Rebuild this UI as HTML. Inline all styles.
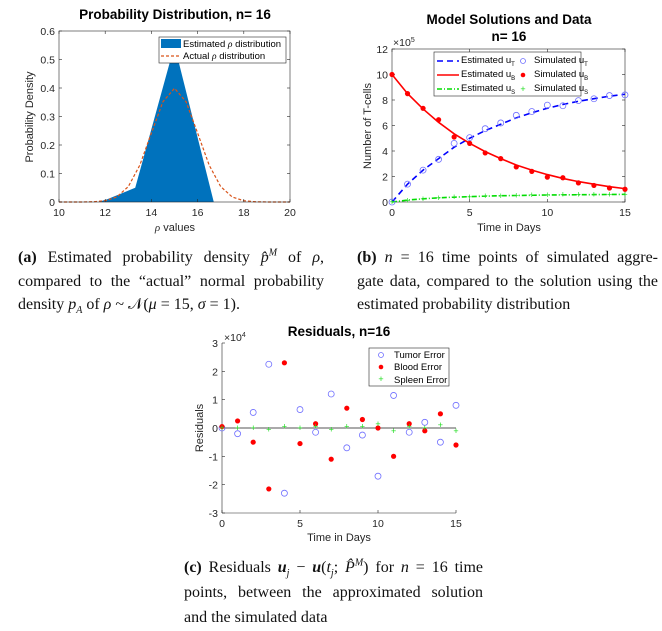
<!DOCTYPE html>
<html><head><meta charset="utf-8">
<style>
html,body{margin:0;padding:0;background:#fff;}
body{width:662px;height:631px;position:relative;overflow:hidden;font-family:"Liberation Sans",sans-serif;}
svg{position:absolute;left:0;top:0;}
.cap{position:absolute;font-family:"Liberation Serif",serif;font-size:16px;color:#111;line-height:23.5px;text-align:justify;}
.cap .l{display:block;height:23.5px;text-align:justify;text-align-last:justify;white-space:nowrap;}
.cap sub,.cap sup{line-height:0;font-size:10px;}
.tick{font-size:10.5px;fill:#262626;}
.ttl{font-size:13.5px;font-weight:bold;fill:#000;}
.lab{font-size:11px;fill:#262626;}
.leg{font-size:9.5px;fill:#000;}
</style></head>
<body>
<svg id="svg" width="662" height="631"></svg>

<div class="cap" style="left:18px;top:246px;width:306px">
<span class="l"><b>(a)</b> Estimated probability density <i>p̂</i><sup><i>M</i></sup> of <i>ρ</i>,</span>
<span class="l">compared to the “actual” normal probability</span>
<span class="l" style="text-align-last:left">density <i>p<sub>A</sub></i> of <i>ρ</i> ~ 𝒩(<i>μ</i> = 15, <i>σ</i> = 1).</span>
</div>
<div class="cap" style="left:357px;top:246px;width:301px">
<span class="l"><b>(b)</b> <i>n</i> = 16 time points of simulated aggre-</span>
<span class="l">gate data, compared to the solution using the</span>
<span class="l" style="text-align-last:left">estimated probability distribution</span>
</div>
<div class="cap" style="left:184px;top:555px;width:299px;line-height:25px">
<span class="l" style="height:25px"><b>(c)</b> Residuals <b><i>u</i></b><sub><i>j</i></sub> − <b><i>u</i></b>(<i>t<sub>j</sub></i>; <i>P̂</i><sup><i>M</i></sup>) for <i>n</i> = 16 time</span>
<span class="l" style="height:25px">points, between the approximated solution</span>
<span class="l" style="height:25px;text-align-last:left">and the simulated data</span>
</div>

<script>
// ---- Chart A data ----
const estX = [10, 11.7, 12.1, 13.3, 15, 16.7, 20];
const estY = [0, 0, 0.01, 0.05, 0.55, 0, 0];
const actX = [10,10.5,11,11.5,12,12.5,13,13.5,14,14.5,15,15.5,16,16.5,17,17.5,18,18.5,19,19.5,20];
const actY = [0,0,0.0001,0.0009,0.0044,0.0175,0.054,0.1295,0.242,0.352,0.399,0.352,0.242,0.1295,0.054,0.0175,0.0044,0.0009,0.0001,0,0];
const aXTicks = [10,12,14,16,18,20];
const aYTicks = [0,0.1,0.2,0.3,0.4,0.5,0.6];
const aYLabels = ["0","0.1","0.2","0.3","0.4","0.5","0.6"];
// ---- Chart B data (x1e5) ----
const days = [0,1,2,3,4,5,6,7,8,9,10,11,12,13,14,15];
const estT = [0,1.4,2.5,3.4,4.3,5.0,5.6,6.1,6.6,7.0,7.35,7.65,7.9,8.1,8.3,8.45];
const simT = [0,1.4,2.5,3.35,4.6,5.05,5.75,6.2,6.8,7.1,7.6,7.55,7.95,8.1,8.35,8.4];
const estB = [10,8.5,7.3,6.25,5.35,4.6,3.95,3.4,2.9,2.5,2.15,1.85,1.6,1.4,1.2,1.05];
const simB = [10,8.5,7.35,6.45,5.1,4.6,3.85,3.4,2.75,2.4,1.95,1.9,1.5,1.3,1.1,1.0];
const estS = [0,0.15,0.25,0.33,0.38,0.42,0.46,0.49,0.51,0.53,0.55,0.56,0.57,0.58,0.59,0.6];
const simS = [0,0.12,0.24,0.32,0.38,0.41,0.46,0.48,0.52,0.53,0.55,0.57,0.57,0.59,0.6,0.6];
const bXTicks = [0,5,10,15];
const bYTicks = [0,2,4,6,8,10,12];
// ---- Chart C data (x1e4) ----
const resTumor = [0,-0.2,0.55,2.25,-2.3,0.65,-0.15,1.2,-0.7,-0.25,-1.7,1.15,-0.15,0.2,-0.5,0.8];
const resBlood = [0.05,0.25,-0.5,-2.15,2.3,-0.55,0.15,-1.1,0.7,0.3,0.0,-1.0,0.15,-0.1,0.5,-0.6];
const resSpleen = [0,0,0,-0.05,0.05,0,0.05,-0.05,0.05,0.05,0.15,-0.1,0.05,0,0.1,-0.1];
const cYTicks = [-3,-2,-1,0,1,2,3];

const NS="http://www.w3.org/2000/svg";
const svg=document.getElementById('svg');
function el(tag,attrs,parent){const e=document.createElementNS(NS,tag);for(const k in attrs)e.setAttribute(k,attrs[k]);(parent||svg).appendChild(e);return e;}
function txt(s,attrs,parent){const e=el('text',attrs,parent);e.textContent=s;return e;}
function lin(d0,d1,r0,r1){return v=>r0+(v-d0)/(d1-d0)*(r1-r0);}

// ===== Chart A =====
(function(){
const g=el('g',{});


const X=lin(10,20,59,290), Y=lin(0,0.6,202,31);
let pts=estX.map((x,i)=>X(x)+','+Y(estY[i])).join(' ');
const poly=el('polygon',{points:pts,fill:'#0072bd',stroke:'none'},g);


const act=el('polyline',{points:actX.map((x,i)=>X(x)+','+Y(actY[i])).join(' '),fill:'none',stroke:'#d95319','stroke-width':1.2,'stroke-dasharray':'3,2'},g);


el('rect',{x:59,y:31,width:231,height:171,fill:'none',stroke:'#262626','stroke-width':0.6},g);
aXTicks.forEach(t=>{el('line',{x1:X(t),x2:X(t),y1:202,y2:199,stroke:'#262626','stroke-width':0.6},g);el('line',{x1:X(t),x2:X(t),y1:31,y2:34,stroke:'#262626','stroke-width':0.6},g);
 const l=txt(String(t),{x:X(t),y:216,'text-anchor':'middle',class:'tick'},g);});
aYTicks.forEach((t,i)=>{el('line',{x1:59,x2:62,y1:Y(t),y2:Y(t),stroke:'#262626','stroke-width':0.6},g);el('line',{x1:290,x2:287,y1:Y(t),y2:Y(t),stroke:'#262626','stroke-width':0.6},g);
 const l=txt(aYLabels[i],{x:55,y:Y(t)+4,'text-anchor':'end',class:'tick'},g);});
const t1=txt('Probability Distribution, n= 16',{x:175,y:19,'text-anchor':'middle',class:'ttl'},g);
const xl=txt('',{x:175,y:231,'text-anchor':'middle',class:'lab'},g);xl.innerHTML='<tspan font-family="Liberation Serif" font-style="italic">ρ</tspan> values';
const yl=txt('Probability Density',{x:0,y:0,'text-anchor':'middle',class:'lab',transform:'translate(33,117) rotate(-90)'},g);
const lg=el('g',{},g);
el('rect',{x:159,y:37,width:127,height:26,fill:'#fff',stroke:'#262626','stroke-width':0.6},lg);
el('rect',{x:161,y:39,width:20,height:9,fill:'#0072bd'},lg);
el('line',{x1:161,x2:181,y1:56,y2:56,stroke:'#d95319','stroke-width':1.2,'stroke-dasharray':'3,2'},lg);
const e1=txt('',{x:183,y:47,class:'leg'},lg);e1.innerHTML='Estimated <tspan font-family="Liberation Serif" font-style="italic">ρ</tspan> distribution';
const e2=txt('',{x:183,y:59,class:'leg'},lg);e2.innerHTML='Actual <tspan font-family="Liberation Serif" font-style="italic">ρ</tspan> distribution';
})();

// ===== Chart B =====
(function(){
const g=el('g',{});


const X=lin(0,15,392,625), Y=lin(0,12,202,49);
el('rect',{x:392,y:49,width:233,height:153,fill:'none',stroke:'#262626','stroke-width':0.6},g);
bXTicks.forEach(t=>{el('line',{x1:X(t),x2:X(t),y1:202,y2:199,stroke:'#262626','stroke-width':0.6},g);el('line',{x1:X(t),x2:X(t),y1:49,y2:52,stroke:'#262626','stroke-width':0.6},g);
 const l=txt(String(t),{x:X(t),y:216,'text-anchor':'middle',class:'tick'},g);});
bYTicks.forEach(t=>{el('line',{x1:392,x2:395,y1:Y(t),y2:Y(t),stroke:'#262626','stroke-width':0.6},g);el('line',{x1:625,x2:622,y1:Y(t),y2:Y(t),stroke:'#262626','stroke-width':0.6},g);
 const l=txt(String(t),{x:388,y:Y(t)+4,'text-anchor':'end',class:'tick'},g);});
const ex=txt('',{x:393,y:46,class:'tick','font-size':'10'},g);ex.innerHTML='×10<tspan dy="-4" font-size="7">5</tspan>';
function line(arr,col,dash,name,w){const p=el('polyline',{points:days.map((d,i)=>X(d)+','+Y(arr[i])).join(' '),fill:'none',stroke:col,'stroke-width':w||1.6,'stroke-dasharray':dash},g);}
line(estT,'#0000ff','6,4','estimated-ut-line');
line(estB,'#ff0000','none','estimated-ub-line');
line(estS,'#00dd00','5,2,1,2','estimated-us-line');
days.forEach((d,i)=>{
 const c=el('circle',{cx:X(d),cy:Y(simT[i]),r:3,fill:'none',stroke:'#7070ff','stroke-width':0.8},g);
 const b=el('circle',{cx:X(d),cy:Y(simB[i]),r:2.6,fill:'#ff0000'},g);
 const s=el('text',{x:X(d),y:Y(simS[i])+3,'text-anchor':'middle','font-size':'9',fill:'#22dd22'},g);s.textContent='+';
});
const t1=txt('Model Solutions and Data',{x:509,y:24,'text-anchor':'middle',class:'ttl'},g);
txt('n= 16',{x:509,y:41,'text-anchor':'middle',class:'ttl'},g);
const xl=txt('Time in Days',{x:509,y:231,'text-anchor':'middle',class:'lab'},g);
const yl=txt('Number of T-cells',{x:0,y:0,'text-anchor':'middle',class:'lab',transform:'translate(371,126) rotate(-90)'},g);
const lg=el('g',{},g);
el('rect',{x:434,y:52,width:147,height:44,fill:'#fff',stroke:'#262626','stroke-width':0.6},lg);
const rows=[['#0000ff','6,4','T','#7070ff'],['#ff0000','none','B','#ff0000'],['#00dd00','5,2,1,2','S','#22dd22']];
rows.forEach((r,i)=>{const y=61+i*14;
 el('line',{x1:437,x2:459,y1:y,y2:y,stroke:r[0],'stroke-width':1.4,'stroke-dasharray':r[1]},lg);
 const a=txt('',{x:461,y:y+2,class:'leg','font-size':'8.5'},lg);a.innerHTML='Estimated u<tspan dy="3" font-size="6">'+r[2]+'</tspan>';
 if(i==0)el('circle',{cx:523,cy:y,r:2.5,fill:'none',stroke:r[3],'stroke-width':0.8},lg);
 if(i==1)el('circle',{cx:523,cy:y,r:2.3,fill:r[3]},lg);
 if(i==2)txt('+',{x:523,y:y+3,'text-anchor':'middle','font-size':'9',fill:r[3]},lg);
 const b=txt('',{x:534,y:y+2,class:'leg','font-size':'8.5'},lg);b.innerHTML='Simulated u<tspan dy="3" font-size="6">'+r[2]+'</tspan>';
});
})();

// ===== Chart C =====
(function(){
const g=el('g',{});


const X=lin(0,15,222,456), Y=lin(-3,3,513,343);
el('line',{x1:222,x2:222,y1:343,y2:513,stroke:'#262626','stroke-width':0.6},g);
el('line',{x1:222,x2:456,y1:513,y2:513,stroke:'#262626','stroke-width':0.6},g);
el('line',{x1:222,x2:456,y1:Y(0),y2:Y(0),stroke:'#555','stroke-width':1},g);
bXTicks.forEach(t=>{el('line',{x1:X(t),x2:X(t),y1:513,y2:510,stroke:'#262626','stroke-width':0.6},g);
 const l=txt(String(t),{x:X(t),y:527,'text-anchor':'middle',class:'tick'},g);});
cYTicks.forEach(t=>{el('line',{x1:222,x2:225,y1:Y(t),y2:Y(t),stroke:'#262626','stroke-width':0.6},g);
 const l=txt(String(t),{x:218,y:Y(t)+4,'text-anchor':'end',class:'tick'},g);});
const ex=txt('',{x:224,y:341,class:'tick','font-size':'10'},g);ex.innerHTML='×10<tspan dy="-4" font-size="7">4</tspan>';
days.forEach((d,i)=>{
 const c=el('circle',{cx:X(d),cy:Y(resTumor[i]),r:3,fill:'none',stroke:'#7070ff','stroke-width':0.8},g);
 const b=el('circle',{cx:X(d),cy:Y(resBlood[i]),r:2.6,fill:'#ff0000'},g);
 const s=el('text',{x:X(d),y:Y(resSpleen[i])+3,'text-anchor':'middle','font-size':'9',fill:'#22dd22'},g);s.textContent='+';
});
const t1=txt('Residuals, n=16',{x:339,y:336,'text-anchor':'middle',class:'ttl'},g);
const xl=txt('Time in Days',{x:339,y:541,'text-anchor':'middle',class:'lab'},g);
const yl=txt('Residuals',{x:0,y:0,'text-anchor':'middle',class:'lab',transform:'translate(203,428) rotate(-90)'},g);
const lg=el('g',{},g);
el('rect',{x:369,y:348,width:80,height:38,fill:'#fff',stroke:'#262626','stroke-width':0.6},lg);
el('circle',{cx:381,cy:355,r:2.5,fill:'none',stroke:'#7070ff','stroke-width':0.8},lg);
el('circle',{cx:381,cy:367,r:2.3,fill:'#ff0000'},lg);
txt('+',{x:381,y:382,'text-anchor':'middle','font-size':'9',fill:'#22dd22'},lg);
txt('Tumor Error',{x:394,y:358,class:'leg'},lg);
txt('Blood Error',{x:394,y:370,class:'leg'},lg);
txt('Spleen Error',{x:394,y:383,class:'leg'},lg);
})();
</script>
</body></html>
